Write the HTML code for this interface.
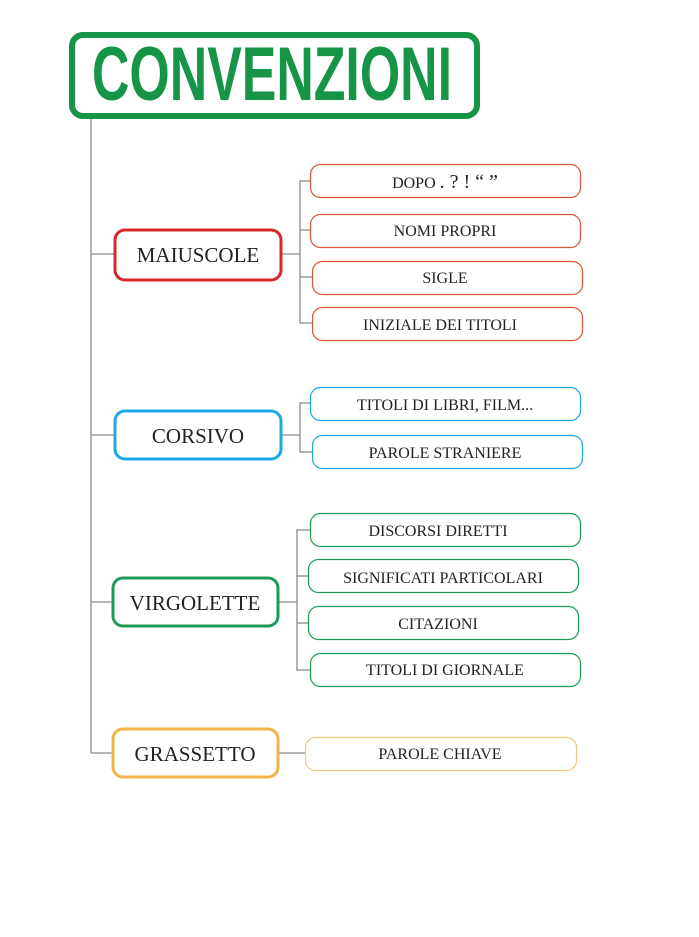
<!DOCTYPE html>
<html><head><meta charset="utf-8"><style>
html,body{margin:0;padding:0;background:#fff;}
svg{display:block}
text{font-family:"Liberation Serif",serif;fill:#222;}
</style></head><body>
<svg width="699" height="937" viewBox="0 0 699 937" xmlns="http://www.w3.org/2000/svg">
<g stroke="#8a8a8a" stroke-width="1.3" fill="none">
<line x1="91" y1="117" x2="91" y2="753"/>
<line x1="91" y1="254" x2="114" y2="254"/>
<line x1="91" y1="435" x2="114" y2="435"/>
<line x1="91" y1="602" x2="112" y2="602"/>
<line x1="91" y1="753" x2="112" y2="753"/>
<line x1="282" y1="254" x2="300" y2="254"/>
<polyline points="310,181 300,181 300,323 312,323"/>
<line x1="300" y1="230" x2="310" y2="230"/>
<line x1="300" y1="277" x2="312" y2="277"/>
<line x1="282" y1="435" x2="300" y2="435"/>
<polyline points="310,403 300,403 300,452 312,452"/>
<line x1="279" y1="602" x2="297" y2="602"/>
<polyline points="310,530 297,530 297,670 310,670"/>
<line x1="297" y1="576" x2="308" y2="576"/>
<line x1="297" y1="623" x2="308" y2="623"/>
<line x1="279" y1="753" x2="305" y2="753"/>
</g>
<rect x="72" y="35" width="405" height="81" rx="11" fill="#fff" stroke="#169447" stroke-width="6"/>
<text x="272" y="100" text-anchor="middle" textLength="360" lengthAdjust="spacingAndGlyphs" style="font-family:'Liberation Sans',sans-serif;font-weight:bold;font-size:76px;fill:#169447">CONVENZIONI</text>

<g fill="#fff" stroke-width="3">
<rect x="115" y="230" width="166" height="50" rx="10" stroke="#d8262a"/>
<rect x="115" y="411" width="166" height="48" rx="10" stroke="#1da8e0"/>
<rect x="113" y="578" width="165" height="48" rx="10" stroke="#1f9a55"/>
<rect x="113" y="729" width="165" height="48" rx="10" stroke="#f2b34b"/>
</g>
<g font-size="21" text-anchor="middle">
<text x="198" y="262">MAIUSCOLE</text>
<text x="198" y="443">CORSIVO</text>
<text x="195" y="610">VIRGOLETTE</text>
<text x="195" y="761">GRASSETTO</text>
</g>
<g fill="#fff" stroke-width="1.2">
<rect x="310.5" y="164.5" width="270" height="33" rx="10" stroke="#d9553a"/>
<rect x="310.5" y="214.5" width="270" height="33" rx="10" stroke="#d9553a"/>
<rect x="312.5" y="261.5" width="270" height="33" rx="10" stroke="#d9553a"/>
<rect x="312.5" y="307.5" width="270" height="33" rx="10" stroke="#d9553a"/>
<rect x="310.5" y="387.5" width="270" height="33" rx="10" stroke="#1da8e0"/>
<rect x="312.5" y="435.5" width="270" height="33" rx="10" stroke="#1da8e0"/>
<rect x="310.5" y="513.5" width="270" height="33" rx="10" stroke="#1f9a55"/>
<rect x="308.5" y="559.5" width="270" height="33" rx="10" stroke="#1f9a55"/>
<rect x="308.5" y="606.5" width="270" height="33" rx="10" stroke="#1f9a55"/>
<rect x="310.5" y="653.5" width="270" height="33" rx="10" stroke="#1f9a55"/>
<rect x="305.5" y="737.5" width="271" height="33" rx="10" stroke="#f2c77a"/>
</g>
<g font-size="16" text-anchor="middle">
<text x="445" y="188">DOPO <tspan font-size="20">. ? ! “ ”</tspan></text>
<text x="445" y="236">NOMI PROPRI</text>
<text x="445" y="283">SIGLE</text>
<text x="440" y="330">INIZIALE DEI TITOLI</text>
<text x="445" y="410">TITOLI DI LIBRI, FILM...</text>
<text x="445" y="458">PAROLE STRANIERE</text>
<text x="438" y="536">DISCORSI DIRETTI</text>
<text x="443" y="583">SIGNIFICATI PARTICOLARI</text>
<text x="438" y="629">CITAZIONI</text>
<text x="445" y="675">TITOLI DI GIORNALE</text>
<text x="440" y="759">PAROLE CHIAVE</text>
</g>
</svg>
</body></html>
